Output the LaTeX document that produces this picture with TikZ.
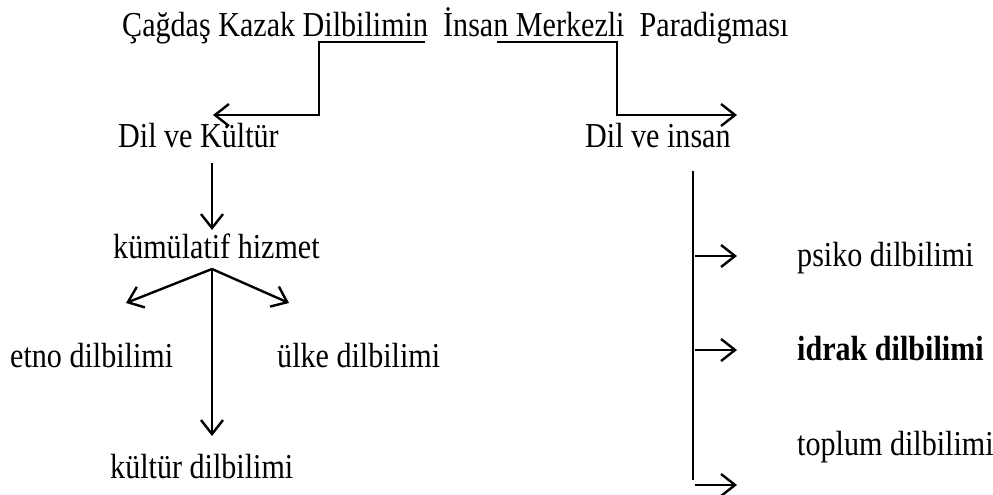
\documentclass[tikz,border=0pt]{standalone}
\usepackage{fontspec}
\setmainfont[FakeStretch=0.86]{Liberation Serif}
\usetikzlibrary{arrows.meta,calc}
\tikzset{
  lbl/.style={anchor=base west, inner sep=0pt, font=\fontsize{35}{40}\selectfont},
  conn/.style={line width=2.4pt, -{Straight Barb[length=14pt,width=22pt,line width=2.4pt]}},
  plain/.style={line width=2.4pt}
}
\begin{document}
\begin{tikzpicture}[x=1pt,y=-1pt]
\useasboundingbox (0,0) rectangle (993,495);
\node[lbl] (title) at (122,37) {Çağdaş Kazak Dilbilimin\ \ İnsan Merkezli\ \ Paradigması};
\node[lbl] (dk) at (118,147) {Dil ve Kültür};
\node[lbl] (di) at (585,147) {Dil ve insan};
\node[lbl] (kh) at (113,258) {kümülatif hizmet};
\node[lbl] (etno) at (10,367) {etno dilbilimi};
\node[lbl] (ulke) at (277,367) {ülke dilbilimi};
\node[lbl] (kultur) at (110,478) {kültür dilbilimi};
\node[lbl] (psiko) at (797,266) {psiko dilbilimi};
\node[lbl] (idrak) at (797,360) {\bfseries idrak dilbilimi};
\node[lbl] (toplum) at (797,455) {toplum dilbilimi};
% title connectors
\coordinate (l0) at (425,42);
\coordinate (r0) at (497,42);
\draw[conn] (l0) -- (319,42) -- (319,115) -- (213,115);
\draw[conn] (r0) -- (617,42) -- (617,115) -- (737,115);
% left tree
\draw[conn] (212,163) -- (212,230);
\coordinate (fork) at (212,269);
\draw[conn] (fork) -- (126,303);
\draw[conn] (fork) -- (289,303);
\draw[conn] (fork) -- (212,436);
% right bracket
\coordinate (b0) at (693,171);
\coordinate (b1) at (693,480);
\draw[plain] (b0) -- (b1);
\draw[conn] (695,256) -- (737,256);
\draw[conn] (695,350) -- (737,350);
\draw[conn] (695,485) -- (737,485);
\end{tikzpicture}
\end{document}
